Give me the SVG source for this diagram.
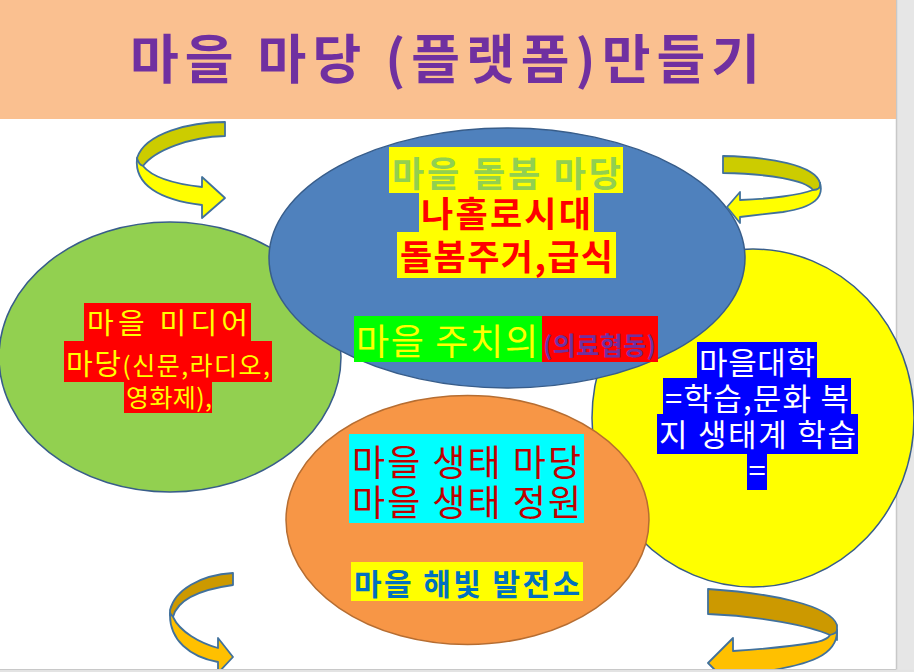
<svg xmlns="http://www.w3.org/2000/svg" width="914" height="672" viewBox="0 0 914 672">
<style>
.k{font-family:"Noto Sans CJK KR","Noto Sans",sans-serif}
.b{font-weight:700}
.el{stroke:#385D8A;stroke-width:1.5}
.ar{stroke:#41719C;stroke-width:1.8;stroke-linejoin:round}
</style>
<rect x="0" y="0" width="914" height="672" fill="#FFFFFF"/>
<rect x="896" y="0" width="18" height="672" fill="#E6E6E6"/>
<line x1="896.5" y1="0" x2="896.5" y2="672" stroke="#C8C8C8" stroke-width="1.5"/>
<g id="title">
<rect x="0" y="0" width="896" height="119" fill="#FAC090"/>
<text class="k b" x="130" y="79" font-size="53" fill="#7030A0" textLength="630" lengthAdjust="spacing">마을 마당 (플랫폼)만들기</text>
</g>
<g id="node-media">
<ellipse class="el" cx="170" cy="357" rx="171" ry="135" fill="#92D050"/>
<rect x="84" y="303" width="167" height="38" fill="#FF0000"/>
<rect x="64" y="341" width="208" height="41" fill="#FF0000"/>
<rect x="124" y="382" width="88" height="31" fill="#FF0000"/>
<text class="k" x="87" y="334" font-size="29" fill="#FFFF00" textLength="161" lengthAdjust="spacing">마을 미디어</text>
<text class="k" x="66" y="375" font-size="29" fill="#FFFF00" textLength="204" lengthAdjust="spacing">마당<tspan font-size="25">(신문,라디오,</tspan></text>
<text class="k" x="126" y="407" font-size="25" fill="#FFFF00" textLength="86" lengthAdjust="spacing">영화제),</text>
</g>
<g id="node-univ">
<ellipse class="el" cx="753" cy="418" rx="161" ry="169" fill="#FFFF00"/>
<rect x="697" y="342" width="120" height="36" fill="#0000FF"/>
<rect x="663" y="378" width="188" height="36" fill="#0000FF"/>
<rect x="657" y="414" width="201" height="40" fill="#0000FF"/>
<rect x="747" y="454" width="20" height="36" fill="#0000FF"/>
<text class="k" x="699" y="374" font-size="31" fill="#FFFFFF" textLength="116" lengthAdjust="spacing">마을대학</text>
<text class="k" x="665" y="410" font-size="31" fill="#FFFFFF" textLength="184" lengthAdjust="spacing">=학습,문화 복</text>
<text class="k" x="659" y="446" font-size="31" fill="#FFFFFF" textLength="197" lengthAdjust="spacing">지 생태계 학습</text>
<text class="k" x="757" y="482" font-size="31" fill="#FFFFFF" text-anchor="middle">=</text>
</g>
<g id="node-care">
<ellipse class="el" cx="507" cy="258" rx="238" ry="130" fill="#4F81BD"/>
<rect x="389" y="147" width="234" height="46" fill="#FFFF00"/>
<rect x="419" y="192" width="175" height="41" fill="#FFFF00"/>
<rect x="397" y="232" width="219" height="46" fill="#FFFF00"/>
<rect x="354" y="316" width="188" height="46" fill="#00FF00"/>
<rect x="542" y="316" width="116" height="46" fill="#FF0000"/>
<text class="k b" x="392" y="187" font-size="35" fill="#92D050" textLength="229" lengthAdjust="spacing">마을 돌봄 마당</text>
<text class="k b" x="421" y="227" font-size="35" fill="#FF0000" textLength="170" lengthAdjust="spacing">나홀로시대</text>
<text class="k b" x="400" y="270" font-size="35" fill="#FF0000" textLength="213" lengthAdjust="spacing">돌봄주거,급식</text>
<text class="k" x="356" y="355" font-size="36" fill="#FFFF00" textLength="182" lengthAdjust="spacing">마을 주치의</text>
<text class="k b" x="543" y="355" font-size="25" fill="#7030A0" textLength="113" lengthAdjust="spacing">(의료협동)</text>
</g>
<g id="node-eco">
<ellipse cx="467.5" cy="520" rx="181.5" ry="124.5" fill="#F79646" stroke="#B66D31" stroke-width="1.5"/>
<rect x="349" y="434" width="235" height="89" fill="#00FFFF"/>
<rect x="351" y="562" width="232" height="39" fill="#FFFF00"/>
<text class="k" x="352" y="476" font-size="36" fill="#C00000" textLength="229" lengthAdjust="spacing">마을 생태 마당</text>
<text class="k" x="352" y="516" font-size="36" fill="#C00000" textLength="229" lengthAdjust="spacing">마을 생태 정원</text>
<text class="k b" x="354" y="595" font-size="30" fill="#0070C0" textLength="226" lengthAdjust="spacing">마을 해빛 발전소</text>
</g>
<g id="connectors">
<g id="arrow-top-left">
<path class="ar" fill="#CCCC00" d="M225,122 C190,122 145,133 137,158 C136,163 139,166 143,166 C155,150 190,137 225,136 Z"/>
<path class="ar" fill="#FFFF00" d="M137,158 C134,185 160,200 202,205 L202,218 L225,198 L202,177 L202,187 C175,184 152,177 143,166 C140,165 138,162 137,158 Z"/>
</g>
<g id="arrow-top-right">
<path class="ar" fill="#CCCC00" d="M723,156 C770,157 815,165 820,183 C821,188 818,190 813,190 C805,180 770,174 723,173 Z"/>
<path class="ar" fill="#FFFF00" d="M820,183 C824,197 815,207 783,212 L740,217 L740,223 L727,207 L740,192 L740,200 C770,199 800,195 813,190 C818,190 821,188 820,183 Z"/>
</g>
<g id="arrow-bottom-left">
<path class="ar" fill="#CC9900" d="M233,573 C200,575 175,590 170,610 L170,615 C171,617 172,617 173,617 C176,605 190,591 233,585 Z"/>
<path class="ar" fill="#FFC000" d="M170,613 C169,640 190,657 218,662 L218,673 L233,657 L218,638 L218,648 C200,643 180,632 173,617 Z"/>
</g>
<g id="arrow-bottom-right">
<path class="ar" fill="#CC9900" d="M708,589 C770,593 830,605 837,625 L837,640 C836,637 833,636 830,635 C810,626 760,616 708,614 Z"/>
<path class="ar" fill="#FFC000" d="M837,630 C838,655 810,665 760,672 L733,676 L733,688 L708,663 L733,638 L733,651 C765,649 800,645 817,642 C825,640 829,637 830,635 C834,634 837,632 837,630 Z"/>
</g>
</g>
<rect x="0" y="669.5" width="914" height="2.5" fill="#E3E3E3"/>
<line x1="0" y1="669.5" x2="896" y2="669.5" stroke="#C8C8C8" stroke-width="1"/>
</svg>
